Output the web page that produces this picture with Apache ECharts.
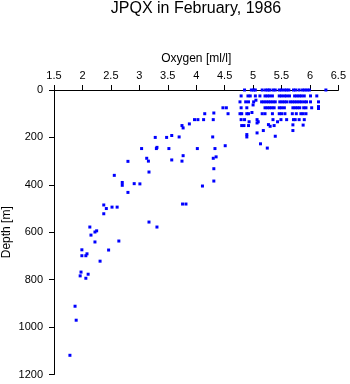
<!DOCTYPE html>
<html><head><meta charset="utf-8">
<script src="https://cdn.jsdelivr.net/npm/echarts@6/dist/echarts.min.js"></script>
<style>html,body{margin:0;padding:0;background:#fff}#c{width:350px;height:384px}</style>
</head><body><div id="c"></div>
<script>
var titleText = "JPQX in February, 1986";
var xName = "Oxygen [ml/l]";
var yName = "Depth [m]";
var xTicks = [1.5, 6.5, 0.5];   // min, max, step
var yTicks = [0, 1200, 200];

var oxygen = [
 // 0 m
 4.85,4.97,5.01,5.04,5.16,5.22,5.26,5.29,5.35,5.39,5.46,5.50,5.55,5.59,5.63,5.71,5.75,5.81,5.87,5.91,5.95,5.99,6.28,
 // 25 m
 4.79,4.91,4.95,5.04,5.12,5.21,5.25,5.29,5.34,5.46,5.50,5.55,5.59,5.64,5.73,5.77,5.81,5.85,5.90,6.01,6.12,
 // 50 m
 4.77,4.87,4.92,5.01,5.05,5.15,5.19,5.23,5.27,5.31,5.35,5.39,5.47,5.51,5.55,5.59,5.65,5.69,5.73,5.77,5.81,5.85,5.90,5.94,6.01,6.15,
 // 75 m
 4.47,4.53,4.79,4.89,5.00,5.21,5.25,5.29,5.33,5.37,5.46,5.50,5.55,5.70,5.74,5.78,5.82,5.89,5.93,6.03,6.15,6.15,
 // 100 m
 4.15,4.31,4.56,4.77,4.80,4.89,4.92,4.98,5.16,5.21,5.34,5.46,5.50,5.56,5.69,5.76,5.84,5.88,5.93,
 // 125 m
 3.97,4.03,4.13,4.30,4.79,4.85,4.93,5.07,5.09,5.35,5.43,5.49,5.59,5.71,5.74,5.81,5.90,
 // ~150 m
 3.75,3.77,3.88,4.80,4.84,4.92,5.07,5.27,5.30,5.37,5.70,5.88,
 // 175-200 m
 5.18,5.70,5.07,4.89,4.89,5.39,3.28,3.48,3.57,3.70,4.29,
 // 225-250 m
 5.13,4.51,5.25,3.04,3.30,3.31,3.52,4.02,4.33,
 // 275-300 m
 3.77,4.35,4.30,3.13,3.16,3.57,3.75,2.80,
 // deeper
 3.17,4.31,2.56,2.70,2.70,2.91,3.01,4.31,4.11,2.80,3.76,3.82,2.375,2.42,2.52,2.61,2.375,3.17,2.13,3.31,
 2.22,2.25,2.15,2.64,2.22,1.99,2.46,2.08,1.99,2.06,2.31,1.975,2.10,1.96,2.06,1.87,1.89,1.78
];
var depth = [
 0,0,0,0,0,0,0,0,0,0,0,0,0,0,0,0,0,0,0,0,0,0,0,
 25,25,25,25,25,25,25,25,25,25,25,25,25,25,25,25,25,25,25,25,25,
 50,50,50,50,43,50,50,50,50,50,50,50,50,50,50,50,50,50,50,50,50,50,50,50,50,50,
 75,75,75,75,63,75,75,75,75,75,75,75,75,75,75,75,75,75,75,75,70,78,
 100,97,100,100,100,100,100,95,100,100,100,100,100,100,100,100,100,100,100,
 125,125,125,125,125,125,134,125,134,125,134,125,125,125,125,125,125,
 150,160,143,150,150,150,139,146,153,150,147,148,
 171,171,181,188,198,195,200,200,192,198,198,
 227,235,245,247,247,242,247,247,247,
 277,282,288,288,300,295,300,301,
 346,332,360,390,402,395,396,384,405,432,481,481,485,500,494,494,522,557,578,578,
 599,594,612,637,641,674,675,691,699,699,722,768,777,784,794,912,971,1119
];

var pts = [];
for (var i = 0; i < Math.min(oxygen.length, depth.length); i++) pts.push([oxygen[i], depth[i]]);

var FONT = "Liberation Sans";
var chart = echarts.init(document.getElementById('c'), null, {renderer: 'canvas'});
chart.setOption({
  animation: false,
  backgroundColor: '#fff',
  title: {
    text: titleText, left: 196, top: 1, padding: 0, textAlign: 'center',
    textStyle: {fontFamily: FONT, fontSize: 16, fontWeight: 'normal', color: '#000'}
  },
  grid: {left: 54, right: 11.6, top: 90, bottom: 9.5, containLabel: false, outerBoundsMode: 'none'},
  xAxis: {
    type: 'value', position: 'top', min: xTicks[0], max: xTicks[1], interval: xTicks[2],
    name: xName, nameLocation: 'middle', nameGap: 25, nameMoveOverlap: false,
    nameTextStyle: {fontFamily: FONT, fontSize: 12, color: '#000'},
    axisLine: {show: true, onZero: false, lineStyle: {color: '#000', width: 1}},
    axisTick: {show: true, inside: false, length: 5, lineStyle: {color: '#000'}},
    axisLabel: {fontFamily: FONT, fontSize: 11, color: '#000', margin: 9,
      formatter: function (v) { return String(v); }},
    splitLine: {show: false}
  },
  yAxis: {
    type: 'value', inverse: true, min: yTicks[0], max: yTicks[1], interval: yTicks[2],
    name: yName, nameLocation: 'middle', nameGap: 41, nameRotate: 90, nameMoveOverlap: false,
    nameTextStyle: {fontFamily: FONT, fontSize: 12, color: '#000'},
    axisLine: {show: true, onZero: false, lineStyle: {color: '#000', width: 1}},
    axisTick: {show: true, inside: false, length: 5, lineStyle: {color: '#000'}},
    axisLabel: {fontFamily: FONT, fontSize: 11, color: '#000', margin: 11,
      formatter: function (v) { return String(v); }},
    splitLine: {show: false}
  },
  series: [{
    type: 'scatter', data: pts, symbol: 'rect', symbolSize: [3, 3],
    itemStyle: {color: '#0000ff', opacity: 1}, z: 5
  }]
});
</script></body></html>
